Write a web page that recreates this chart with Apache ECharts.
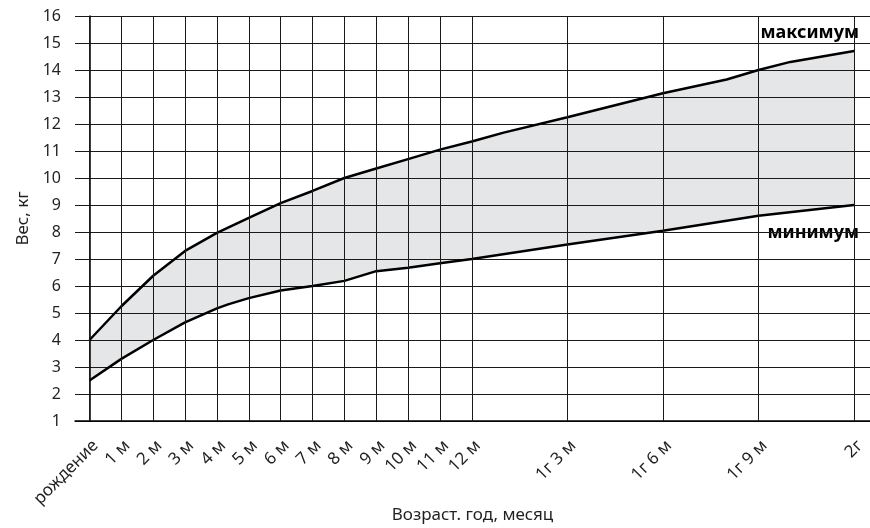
<!DOCTYPE html>
<html>
<head>
<meta charset="utf-8">
<script src="https://cdn.jsdelivr.net/npm/echarts@6/dist/echarts.min.js"></script>
<style>
  html, body { margin: 0; padding: 0; background: #fff; }
  #chart { width: 870px; height: 528px; }
</style>
</head>
<body>
<div id="chart"></div>
<script>
// ---- data (age in months, weight in kg) ----
const tickAges = [0, 1, 2, 3, 4, 5, 6, 7, 8, 9, 10, 11, 12, 15, 18, 21, 24];
const tickLabels = ['рождение', '1 м', '2 м', '3 м', '4 м', '5 м', '6 м', '7 м', '8 м', '9 м', '10 м', '11 м', '12 м', '1г 3 м', '1г 6 м', '1г 9 м', '2г'];

const maxAges    = [0, 1, 2, 3, 4, 5, 6, 7, 8, 9, 10, 11, 12, 13, 15, 18, 20, 21, 22, 24];
const maxWeights = [4.0, 5.25, 6.38, 7.3, 7.97, 8.52, 9.07, 9.52, 10.0, 10.35, 10.7, 11.05, 11.35, 11.68, 12.25, 13.14, 13.65, 14.0, 14.3, 14.7];

const minAges    = [0, 1, 2, 3, 4, 4.35, 5, 6, 7, 8, 9, 10, 11, 12, 15, 18, 21, 24];
const minWeights = [2.5, 3.3, 4.0, 4.65, 5.17, 5.32, 5.55, 5.83, 6.0, 6.19, 6.55, 6.68, 6.84, 7.0, 7.54, 8.05, 8.6, 9.0];

const labelMax = 'максимум';
const labelMin = 'минимум';
const xName = 'Возраст. год, месяц';
const yName = 'Вес, кг';

// ---- build ----
const maxData = maxAges.map((a, i) => [a, maxWeights[i]]);
const minData = minAges.map((a, i) => [a, minWeights[i]]);
const FONT = 'Noto Sans';
const GRID = '#1a1a1a';

const chart = echarts.init(document.getElementById('chart'), null, { renderer: 'canvas' });
chart.setOption({
  animation: false,
  backgroundColor: '#ffffff',
  textStyle: { fontFamily: FONT },
  grid: { left: 75, top: 16, right: 0, bottom: 107, containLabel: false, outerBoundsMode: 'none' },
  xAxis: {
    type: 'value',
    min: -0.455,
    max: 24.5,
    name: xName,
    nameLocation: 'middle',
    nameGap: 94,
    nameMoveOverlap: false,
    nameTextStyle: { fontFamily: FONT, fontSize: 17, color: '#231f20', verticalAlign: 'middle' },
    axisLine: { show: true, lineStyle: { color: '#000', width: 1.5 } },
    axisTick: { show: false },
    splitLine: { show: false },
    axisLabel: {
      customValues: tickAges,
      formatter: function (v) {
        const i = tickAges.indexOf(v);
        return i >= 0 ? tickLabels[i] : '';
      },
      rotate: 45,
      margin: 16,
      verticalAlign: 'top',
      fontFamily: FONT,
      fontSize: 17,
      color: '#231f20'
    }
  },
  yAxis: {
    type: 'value',
    min: 1,
    max: 16,
    interval: 1,
    name: yName,
    nameLocation: 'middle',
    nameGap: 43,
    nameRotate: 90,
    nameMoveOverlap: false,
    nameTextStyle: { fontFamily: FONT, fontSize: 17, color: '#231f20' },
    axisLine: { show: true, lineStyle: { color: '#000', width: 1.5 } },
    axisTick: { show: false },
    splitLine: { show: true, lineStyle: { color: GRID, width: 1 } },
    axisLabel: { margin: 14, fontFamily: FONT, fontSize: 16, color: '#231f20' }
  },
  graphic: [
    { type: 'text', right: 11, top: 24, style: { text: labelMax, font: 'bold 18px "Noto Sans"', fill: '#000' } },
    { type: 'text', right: 11, top: 224, style: { text: labelMin, font: 'bold 18px "Noto Sans"', fill: '#000' } }
  ],
  series: [
    {
      type: 'custom',
      z: -1,
      silent: true,
      data: [[0, 0]],
      renderItem: function (params, api) {
        const pts = [];
        maxData.forEach(d => pts.push(api.coord(d)));
        for (let i = minData.length - 1; i >= 0; i--) pts.push(api.coord(minData[i]));
        return { type: 'polygon', shape: { points: pts }, style: { fill: '#e5e6e8' } };
      }
    },
    {
      type: 'line',
      z: 1,
      silent: true,
      data: [],
      markLine: {
        silent: true,
        symbol: ['none', 'none'],
        label: { show: false },
        lineStyle: { type: 'solid', color: GRID, width: 1 },
        data: tickAges.map(a => ({ xAxis: a }))
      }
    },
    {
      type: 'line',
      z: 3,
      data: maxData,
      showSymbol: false,
      symbol: 'none',
      lineStyle: { color: '#000', width: 2.5 }
    },
    {
      type: 'line',
      z: 3,
      data: minData,
      showSymbol: false,
      symbol: 'none',
      lineStyle: { color: '#000', width: 2.5 }
    }
  ]
});
</script>
</body>
</html>
